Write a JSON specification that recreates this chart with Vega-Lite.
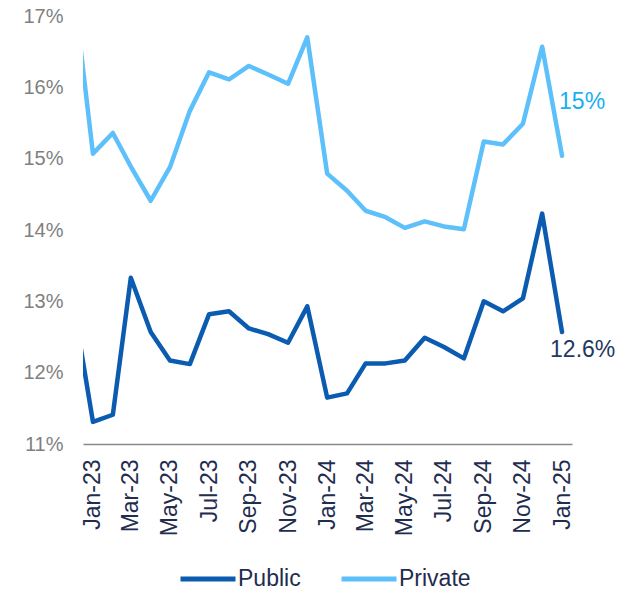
{
  "$schema": "https://vega.github.io/schema/vega-lite/v6.json",
  "width": 489,
  "height": 428,
  "autosize": {"type": "none"},
  "padding": {"left": 83, "top": 16, "right": 48, "bottom": 148},
  "background": "white",
  "config": {
    "view": {"stroke": null},
    "font": "Liberation Sans"
  },
  "datasets": {
    "series": [
      {"date": "2022-12-01", "series": "Public", "value": 13.0},
      {"date": "2023-01-01", "series": "Public", "value": 11.31},
      {"date": "2023-02-01", "series": "Public", "value": 11.41},
      {"date": "2023-03-01", "series": "Public", "value": 13.33},
      {"date": "2023-04-01", "series": "Public", "value": 12.57},
      {"date": "2023-05-01", "series": "Public", "value": 12.17},
      {"date": "2023-06-01", "series": "Public", "value": 12.12},
      {"date": "2023-07-01", "series": "Public", "value": 12.82},
      {"date": "2023-08-01", "series": "Public", "value": 12.86},
      {"date": "2023-09-01", "series": "Public", "value": 12.62},
      {"date": "2023-10-01", "series": "Public", "value": 12.54},
      {"date": "2023-11-01", "series": "Public", "value": 12.42},
      {"date": "2023-12-01", "series": "Public", "value": 12.93},
      {"date": "2024-01-01", "series": "Public", "value": 11.65},
      {"date": "2024-02-01", "series": "Public", "value": 11.71},
      {"date": "2024-03-01", "series": "Public", "value": 12.13},
      {"date": "2024-04-01", "series": "Public", "value": 12.13},
      {"date": "2024-05-01", "series": "Public", "value": 12.17},
      {"date": "2024-06-01", "series": "Public", "value": 12.49},
      {"date": "2024-07-01", "series": "Public", "value": 12.36},
      {"date": "2024-08-01", "series": "Public", "value": 12.2},
      {"date": "2024-09-01", "series": "Public", "value": 13.0},
      {"date": "2024-10-01", "series": "Public", "value": 12.86},
      {"date": "2024-11-01", "series": "Public", "value": 13.04},
      {"date": "2024-12-01", "series": "Public", "value": 14.23},
      {"date": "2025-01-01", "series": "Public", "value": 12.57},
      {"date": "2022-12-01", "series": "Private", "value": 17.45},
      {"date": "2023-01-01", "series": "Private", "value": 15.07},
      {"date": "2023-02-01", "series": "Private", "value": 15.36},
      {"date": "2023-03-01", "series": "Private", "value": 14.89},
      {"date": "2023-04-01", "series": "Private", "value": 14.41},
      {"date": "2023-05-01", "series": "Private", "value": 14.88},
      {"date": "2023-06-01", "series": "Private", "value": 15.67},
      {"date": "2023-07-01", "series": "Private", "value": 16.21},
      {"date": "2023-08-01", "series": "Private", "value": 16.11},
      {"date": "2023-09-01", "series": "Private", "value": 16.3},
      {"date": "2023-10-01", "series": "Private", "value": 16.18},
      {"date": "2023-11-01", "series": "Private", "value": 16.05},
      {"date": "2023-12-01", "series": "Private", "value": 16.7},
      {"date": "2024-01-01", "series": "Private", "value": 14.79},
      {"date": "2024-02-01", "series": "Private", "value": 14.55},
      {"date": "2024-03-01", "series": "Private", "value": 14.27},
      {"date": "2024-04-01", "series": "Private", "value": 14.18},
      {"date": "2024-05-01", "series": "Private", "value": 14.03},
      {"date": "2024-06-01", "series": "Private", "value": 14.12},
      {"date": "2024-07-01", "series": "Private", "value": 14.05},
      {"date": "2024-08-01", "series": "Private", "value": 14.01},
      {"date": "2024-09-01", "series": "Private", "value": 15.24},
      {"date": "2024-10-01", "series": "Private", "value": 15.2},
      {"date": "2024-11-01", "series": "Private", "value": 15.49},
      {"date": "2024-12-01", "series": "Private", "value": 16.57},
      {"date": "2025-01-01", "series": "Private", "value": 15.04}
    ],
    "privLabel": [{"date": "2025-01-01", "value": 15.04, "label": "15%"}],
    "pubLabel": [{"date": "2025-01-01", "value": 12.57, "label": "12.6%"}]
  },
  "encoding": {
    "x": {
      "field": "date",
      "type": "temporal",
      "scale": {
        "type": "utc",
        "domain": [
          {"year": 2022, "month": 12, "date": 16, "hours": 12, "utc": true},
          {"year": 2025, "month": 1, "date": 16, "hours": 12, "utc": true}
        ]
      },
      "axis": {
        "title": null,
        "grid": false,
        "ticks": false,
        "domain": true,
        "domainColor": "#898989",
        "domainWidth": 1.6,
        "labelAngle": 270,
        "labelFontSize": 23,
        "labelColor": "#1f2d4f",
        "labelPadding": 15,
        "labelFlush": false,
        "labelOverlap": false,
        "labelExpr": "utcFormat(datum.value, '%b-%y')",
        "values": [
          {"year": 2023, "month": 1, "date": 1, "utc": true},
          {"year": 2023, "month": 3, "date": 1, "utc": true},
          {"year": 2023, "month": 5, "date": 1, "utc": true},
          {"year": 2023, "month": 7, "date": 1, "utc": true},
          {"year": 2023, "month": 9, "date": 1, "utc": true},
          {"year": 2023, "month": 11, "date": 1, "utc": true},
          {"year": 2024, "month": 1, "date": 1, "utc": true},
          {"year": 2024, "month": 3, "date": 1, "utc": true},
          {"year": 2024, "month": 5, "date": 1, "utc": true},
          {"year": 2024, "month": 7, "date": 1, "utc": true},
          {"year": 2024, "month": 9, "date": 1, "utc": true},
          {"year": 2024, "month": 11, "date": 1, "utc": true},
          {"year": 2025, "month": 1, "date": 1, "utc": true}
        ]
      }
    },
    "y": {
      "field": "value",
      "type": "quantitative",
      "scale": {"domain": [11, 17], "nice": false, "zero": false},
      "axis": {
        "title": null,
        "grid": false,
        "ticks": false,
        "domain": false,
        "values": [11, 12, 13, 14, 15, 16, 17],
        "labelExpr": "datum.value + '%'",
        "labelFontSize": 20,
        "labelColor": "#7f7f7f",
        "labelPadding": 20
      }
    }
  },
  "layer": [
    {
      "data": {"name": "series"},
      "mark": {"type": "line", "strokeWidth": 4.5, "clip": true, "strokeJoin": "round", "strokeCap": "round"},
      "encoding": {
        "color": {
          "field": "series",
          "type": "nominal",
          "scale": {"domain": ["Public", "Private"], "range": ["#0b5cb0", "#5dc0fa"]},
          "legend": {
            "title": null,
            "orient": "none",
            "direction": "horizontal",
            "legendX": 95,
            "legendY": 533,
            "padding": 0,
            "symbolType": "stroke",
            "symbolSize": 3025,
            "symbolStrokeWidth": 5,
            "labelFontSize": 23,
            "labelColor": "#1f2d4f",
            "labelOffset": 0,
            "columnPadding": 30,
            "labelLimit": 0
          }
        }
      }
    },
    {
      "data": {"name": "privLabel"},
      "mark": {"type": "text", "align": "left", "baseline": "middle", "dx": -3, "dy": -54, "fontSize": 23, "color": "#17b0f0"},
      "encoding": {"text": {"field": "label"}}
    },
    {
      "data": {"name": "pubLabel"},
      "mark": {"type": "text", "align": "left", "baseline": "middle", "dx": -12, "dy": 18, "fontSize": 23, "color": "#1f3864"},
      "encoding": {"text": {"field": "label"}}
    }
  ]
}
